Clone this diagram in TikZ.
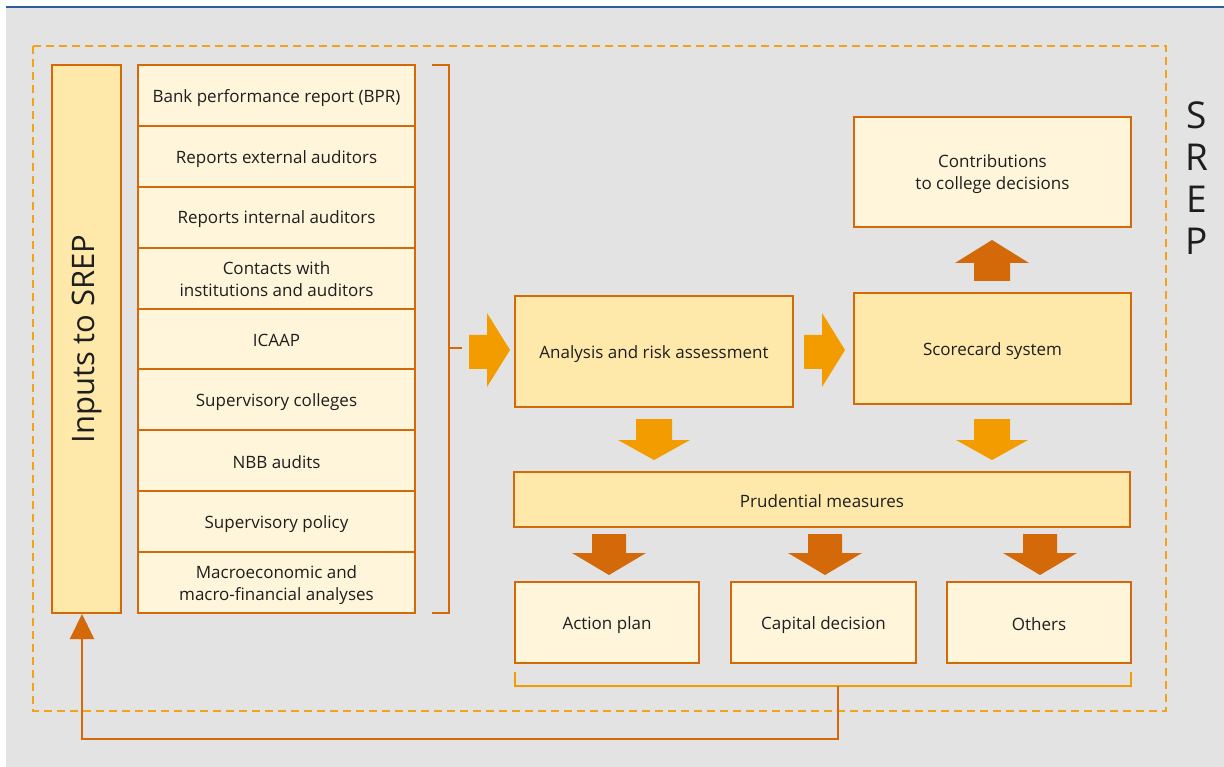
\documentclass[tikz,border=0pt]{standalone}
\usepackage{fontspec}
\setmainfont{Open Sans}
\usetikzlibrary{arrows.meta,calc}
\definecolor{bggray}{HTML}{E3E3E3}
\definecolor{topblue}{HTML}{2F5C9A}
\definecolor{dkor}{HTML}{D4690A}
\definecolor{ltor}{HTML}{F39C00}
\definecolor{dashor}{HTML}{F4A21C}
\definecolor{paleF}{HTML}{FFF5DA}
\definecolor{midF}{HTML}{FEE9AA}
\definecolor{txt}{HTML}{1E1E1E}
\newcommand{\bst}{\rule[-2pt]{0pt}{19.5pt}}
\tikzset{
  box/.style={draw=dkor, line width=2pt, fill=paleF, text=txt, align=center, inner sep=2pt, font=\fontsize{17}{22}\selectfont},
  midbox/.style={box, fill=midF},
  fb/.style={draw=dkor, line width=2pt},
  ltarrow/.style={fill=ltor, draw=none},
  dkarrow/.style={fill=dkor, draw=none},
}
\begin{document}
\begin{tikzpicture}[x=1pt,y=-1pt]
\useasboundingbox (0,0) rectangle (1224,767);
\fill[white] (0,0) rectangle (1224,767);
\fill[bggray] (6,8) rectangle (1224,767);
\draw[topblue, line width=2pt] (6,7) -- (1224,7);
% dashed SREP frame
\draw[dashor, line width=2pt, dash pattern=on 8pt off 5pt] (33,46) rectangle (1166,711);
% SREP label
\foreach \l [count=\i] in {S,R,E,P}
  \node[text=txt, font=\fontsize{37}{37}\selectfont, inner sep=0pt] (srep\i) at (1197,{74+41.7*\i}) {\l};
% Inputs to SREP
\node[midbox, minimum width=69pt, minimum height=548pt] (inputs) at (86.5,339) {};
\node[rotate=90, text=txt, font=\fontsize{31}{34}\selectfont] (inputslabel) at (inputs.center) {Inputs to SREP};
% list
\foreach \t [count=\i] in {
  {Bank performance report (BPR)\bst},
  {Reports external auditors\bst},
  {Reports internal auditors\bst},
  {Contacts with\bst\\institutions and auditors\bst},
  {ICAAP\bst},
  {Supervisory colleges\bst},
  {NBB audits\bst},
  {Supervisory policy\bst},
  {Macroeconomic and\bst\\macro-financial analyses\bst}}
  \node[box, minimum width=277pt, minimum height=60.9pt] (in\i) at (276.5,{65+60.89*(\i-0.5)}) {\t};
% bracket
\coordinate (bt) at (432,65);
\coordinate (bb) at (432,613);
\coordinate (bm) at (449,348);
\draw[fb] (bt) -- (449,65) -- (449,613) -- (bb);
\draw[fb] (bm) -- ++(13,0);
% right-pointing arrows
\path[ltarrow] (469,335) -- (487,335) -- (487,313) -- (510,350) -- (487,387) -- (487,369) -- (469,369) -- cycle;
\path[ltarrow] (804,335) -- (822,335) -- (822,313) -- (845,350) -- (822,387) -- (822,369) -- (804,369) -- cycle;
% main boxes
\node[midbox, minimum width=278pt, minimum height=111pt] (analysis) at (654,351.5) {Analysis and risk assessment\bst};
\node[midbox, minimum width=277pt, minimum height=111pt] (score) at (992.5,348.5) {Scorecard system\bst};
\node[box, minimum width=277pt, minimum height=110pt] (contrib) at (992.5,172) {Contributions\bst\\to college decisions\bst};
\node[midbox, minimum width=616pt, minimum height=55pt] (prud) at (822,499.5) {Prudential measures\bst};
% up arrow
\path[dkarrow] (974,281) -- (974,263) -- (955,263) -- (992,240) -- (1029,263) -- (1010,263) -- (1010,281) -- cycle;
% light down arrows
\foreach \cx in {654,992}
  \path[ltarrow] (\cx-18,419) -- (\cx+18,419) -- (\cx+18,440) -- (\cx+36,440) -- (\cx,460) -- (\cx-36,440) -- (\cx-18,440) -- cycle;
% dark down arrows
\foreach \cx in {609,825,1040}
  \path[dkarrow] (\cx-17,534) -- (\cx+17,534) -- (\cx+17,553) -- (\cx+37,553) -- (\cx,575) -- (\cx-37,553) -- (\cx-17,553) -- cycle;
% outcome boxes
\node[box, minimum width=184pt, minimum height=81pt] (action) at (607,622.5) {Action plan\bst};
\node[box, minimum width=185pt, minimum height=81pt] (capital) at (823.5,622.5) {Capital decision\bst};
\node[box, minimum width=184pt, minimum height=81pt] (others) at (1039,622.5) {Others\bst};
% lower bracket
\coordinate (lb) at (838,686);
\draw[ltor, line width=2pt] (515,672) -- (515,686) -- (1131,686) -- (1131,672);
% feedback
\coordinate (fbend) at ($(inputs.south)+(-4.5,0)$);
\draw[fb, -{Triangle[width=24pt,length=25pt]}] (lb) -- (838,739) -| (fbend);
\end{tikzpicture}
\end{document}
